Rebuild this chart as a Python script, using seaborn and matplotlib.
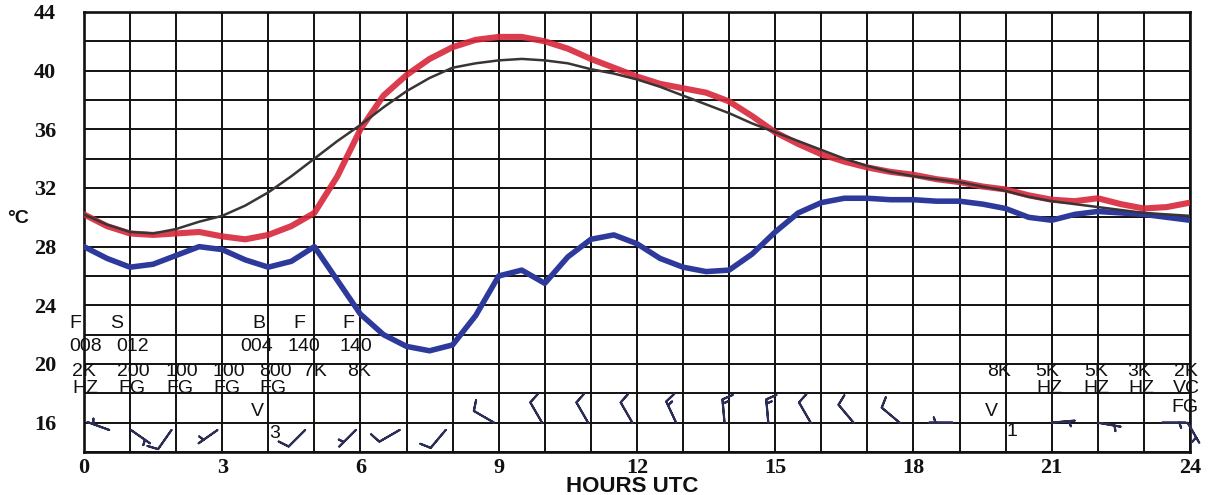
import numpy as np
import pandas as pd
import matplotlib
matplotlib.use("Agg")
import matplotlib.pyplot as plt
import seaborn as sns

# ---- observations (hours UTC, degrees C) ----
hours = [0, 0.5, 1, 1.5, 2, 2.5, 3, 3.5, 4, 4.5, 5, 5.5, 6, 6.5, 7, 7.5, 8,
         8.5, 9, 9.5, 10, 10.5, 11, 11.5, 12, 12.5, 13, 13.5, 14, 14.5, 15,
         15.5, 16, 16.5, 17, 17.5, 18, 18.5, 19, 19.5, 20, 20.5, 21, 21.5,
         22, 22.5, 23, 23.5, 24]

temperature = [30.2, 29.4, 28.9, 28.8, 28.9, 29.0, 28.7, 28.5, 28.8, 29.4,
               30.3, 32.8, 36.0, 38.3, 39.7, 40.8, 41.6, 42.1, 42.3, 42.3,
               42.0, 41.5, 40.8, 40.2, 39.6, 39.1, 38.8, 38.5, 37.9, 36.9,
               35.8, 35.0, 34.3, 33.8, 33.4, 33.1, 32.9, 32.6, 32.4, 32.1,
               31.9, 31.5, 31.2, 31.1, 31.3, 30.9, 30.6, 30.7, 31.0]

normal_temp = [30.2, 29.5, 29.0, 28.9, 29.2, 29.7, 30.1, 30.8, 31.7, 32.8,
               34.0, 35.2, 36.3, 37.5, 38.6, 39.5, 40.2, 40.5, 40.7, 40.8,
               40.7, 40.5, 40.1, 39.8, 39.4, 38.9, 38.3, 37.7, 37.1, 36.4,
               35.8, 35.2, 34.6, 34.0, 33.5, 33.1, 32.8, 32.6, 32.4, 32.1,
               31.8, 31.4, 31.1, 30.9, 30.7, 30.5, 30.3, 30.2, 30.1]

dewpoint = [28.0, 27.2, 26.6, 26.8, 27.4, 28.0, 27.8, 27.1, 26.6, 27.0,
            28.0, 25.7, 23.4, 22.0, 21.2, 20.9, 21.3, 23.3, 26.0, 26.4,
            25.5, 27.3, 28.5, 28.8, 28.2, 27.2, 26.6, 26.3, 26.4, 27.5,
            29.0, 30.3, 31.0, 31.3, 31.3, 31.2, 31.2, 31.1, 31.1, 30.9,
            30.6, 30.0, 29.8, 30.2, 30.4, 30.3, 30.2, 30.0, 29.8]

# cloud groups: hour, cover letter, base (hundreds of ft)
cloud_hours = [-0.19, 0.71, 3.79, 4.68, 5.74]
cloud_cover = ["F", "S", "B", "F", "F"]
cloud_base_hours = [0.04, 1.06, 3.75, 4.77, 5.91]
cloud_base = ["008", "012", "004", "140", "140"]

# visibility and weather
vis_hours = [0.0, 1.08, 2.12, 3.14, 4.16, 5.02, 5.96,
             19.86, 20.9, 21.96, 22.9, 23.91]
visibility = ["2K", "200", "100", "100", "800", "7K", "8K",
              "8K", "5K", "5K", "3K", "2K"]
wx_hours = [0.04, 1.04, 2.08, 3.1, 4.1, 20.95, 21.96, 22.95, 23.93]
weather = ["HZ", "FG", "FG", "FG", "FG", "HZ", "HZ", "HZ", "VC"]

# wind: hour, direction the staff points (deg), speed (kt)
wind_hours = [0.55, 1.02, 1.9, 2.9, 4.8, 5.9, 6.85, 7.85,
              8.9, 9.94, 10.94, 11.9, 12.85, 13.9, 14.85, 15.77,
              16.7, 17.7, 18.85, 21.0, 22.0, 23.4, 23.95]
wind_dir = [290, 125, 215, 235, 225, 225, 240, 220,
            300, 330, 330, 330, 335, 355, 355, 330,
            320, 310, 270, 85, 100, 90, 150]
wind_speed = [5, 5, 10, 5, 10, 5, 10, 10,
              10, 10, 10, 10, 15, 15, 15, 10,
              10, 10, 5, 5, 5, 5, 5]

x_ticks = [0, 3, 6, 9, 12, 15, 18, 21, 24]
y_ticks = [16, 20, 24, 28, 32, 36, 40, 44]

sns.set_theme(style="white")
plt.rcParams["font.family"] = ["Liberation Sans", "DejaVu Sans"]

fig = plt.figure(figsize=(12.13, 4.95), dpi=100)
ax = fig.add_axes([0.0692, 0.0869, 0.9118, 0.8889])

df = pd.DataFrame({"hour": hours, "temp": temperature,
                   "normal": normal_temp, "dew": dewpoint})

sns.lineplot(data=df, x="hour", y="temp", ax=ax, color="#d8283c",
             linewidth=4.4, alpha=0.9, zorder=4)
sns.lineplot(data=df, x="hour", y="normal", ax=ax, color="#3a3434",
             linewidth=1.8, zorder=5)
sns.lineplot(data=df, x="hour", y="dew", ax=ax, color="#2d3a9c",
             linewidth=4.0, zorder=4)

ax.set_xlim(0, 24)
ax.set_ylim(14, 44)
ax.set_xticks(np.arange(0, 25, 1), minor=True)
ax.set_yticks(np.arange(14, 45, 2), minor=True)
ax.set_xticks(x_ticks)
ax.set_yticks(y_ticks)
ax.grid(which="both", color="#111111", linewidth=1.4, zorder=1)
ax.set_axisbelow(True)
for s in ax.spines.values():
    s.set_color("#111111")
    s.set_linewidth(1.9)

tick_font = dict(family="Liberation Serif", weight="bold", size=16)
ax.set_xticklabels([str(t) for t in x_ticks], fontdict=tick_font)
ax.set_yticklabels([str(t) for t in y_ticks], fontdict=tick_font)
ax.tick_params(axis="both", which="both", length=0, colors="#111111")
ax.tick_params(axis="y", pad=20)
ax.tick_params(axis="x", pad=4)

ax.set_xlabel("")
ax.set_ylabel("")
fig.text(0.5215, 0.018, "HOURS UTC", fontsize=16, fontweight="bold",
         color="#111111", va="center", ha="center")
fig.text(0.006, 0.558, "°C", fontsize=14, fontweight="bold",
         color="#111111", va="center", ha="left")

txt = dict(fontsize=14, color="#111111", ha="center", va="baseline",
           zorder=6)
for h, s in zip(cloud_hours, cloud_cover):
    ax.text(h, 22.45, s, **txt)
for h, s in zip(cloud_base_hours, cloud_base):
    ax.text(h, 20.9, s, **txt)
for h, s in zip(vis_hours, visibility):
    ax.text(h, 19.2, s, **txt)
for h, s in zip(wx_hours, weather):
    ax.text(h, 18.0, s, **txt)
ax.text(23.89, 16.75, "FG", **txt)
ax.text(3.77, 16.45, "V", **txt)
ax.text(19.7, 16.45, "V", **txt)
ax.text(4.14, 14.95, "3", **txt)
ax.text(20.14, 15.1, "1", **txt)

# wind barbs: staff points toward the direction the wind comes from
wd = np.deg2rad(np.array(wind_dir, dtype=float))
ws = np.array(wind_speed, dtype=float)
u = -ws * np.sin(wd)
v = -ws * np.cos(wd)
wy = np.where(np.array(wind_hours) < 8.5, 15.5, 16.0)
ax.barbs(wind_hours, wy, u, v, length=5.8, pivot="tip",
         color="#2b2d55", linewidth=1.5, zorder=6, clip_on=False,
         sizes=dict(spacing=0.18, height=0.45, width=0.3))

fig.savefig("out.png", dpi=100, facecolor="white")
